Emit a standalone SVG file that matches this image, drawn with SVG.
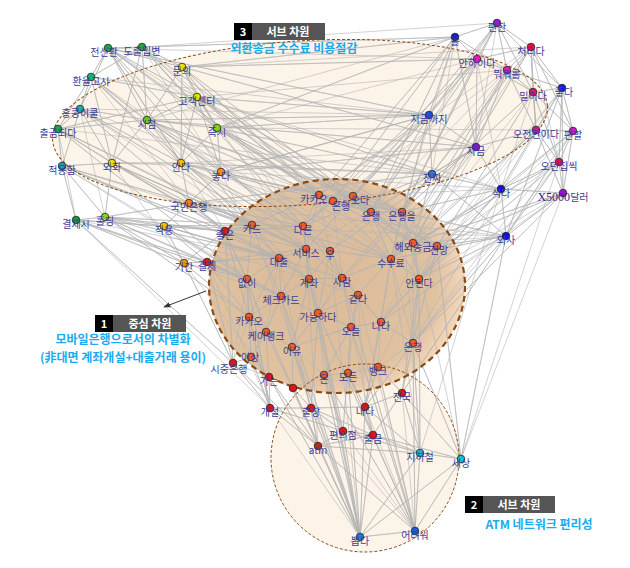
<svg xmlns="http://www.w3.org/2000/svg" width="630" height="568" viewBox="0 0 630 568">
<defs>
<style>
.lb{font-family:"Noto Sans CJK KR","Noto Sans",sans-serif;font-size:10px;fill:#3c3c96;text-anchor:middle}
.n{stroke:#222;stroke-width:.8}
.e{fill:none;stroke:#b4b4b4;stroke-width:.6}
.bx{font-family:"Noto Sans CJK KR","Noto Sans",sans-serif;font-size:11px;font-weight:bold;fill:#fff;text-anchor:middle}
.st{font-family:"Noto Sans CJK KR","Noto Sans",sans-serif;font-size:12px;font-weight:bold;fill:#1aabef;text-anchor:middle}
.o{fill:#f05a28}.r{fill:#e01414}
</style>
<radialGradient id="cg" cx="0.42" cy="0.48" r="0.62">
<stop offset="0" stop-color="#dbba98"/>
<stop offset="0.75" stop-color="#e0c2a1"/>
<stop offset="1" stop-color="#f9dfc4"/>
</radialGradient>
<marker id="arr" viewBox="0 0 10 10" refX="9" refY="5" markerWidth="7" markerHeight="7" orient="auto"><path d="M0,1L10,5L0,9z" fill="#333"/></marker>
</defs>
<rect width="630" height="568" fill="#fff"/>
<g id="regions-fill">
<ellipse cx="300" cy="123" rx="248" ry="82" transform="rotate(-4 300 123)" fill="#fdf4e9"/>
<circle cx="365" cy="458" r="94" fill="#fdf4e9"/>
<ellipse cx="337" cy="286" rx="128" ry="107" fill="url(#cg)"/>
</g>
<g id="connectors">
<path class="e" d="M108 48L142 47 108 48 91 77 108 48 80 109 108 48 147 120 108 48 182 67 108 48 197 97 108 48 217 128 108 48 252 225 108 48 319 195 108 48 306 249 108 48 429 115 108 48 181 163 108 48 225 231
M142 47L91 77 142 47 147 120 142 47 182 67 142 47 197 97 142 47 217 128 142 47 303 226 142 47 371 212 142 47 455 37 142 47 112 163 142 47 221 172
M91 77L80 109 91 77 58 129 91 77 147 120 91 77 197 97 91 77 112 163 91 77 252 225 91 77 279 258 91 77 189 203
M80 109L58 129 80 109 147 120 80 109 62 166 80 109 112 163 80 109 181 163 80 109 225 231 80 109 306 249 80 109 105 217
M58 129L62 166 58 129 112 163 58 129 147 120 58 129 197 97 58 129 252 225 58 129 247 279 58 129 76 220
M147 120L182 67 147 120 197 97 147 120 217 128 147 120 112 163 147 120 181 163 147 120 221 172 147 120 303 226 147 120 319 195 147 120 353 196 147 120 429 115 147 120 476 147 147 120 391 259
M217 128L182 67 217 128 197 97 217 128 181 163 217 128 221 172 217 128 319 195 217 128 333 201 217 128 371 212 217 128 429 115 217 128 432 174 217 128 402 212 217 128 477 59
M182 67L197 97 182 67 181 163 182 67 319 195 182 67 353 196 182 67 455 37 182 67 477 59 182 67 476 147 182 67 391 259
M197 97L181 163 197 97 221 172 197 97 333 201 197 97 402 212 197 97 429 115 197 97 432 174 197 97 413 243 197 97 501 189
M62 166L112 163 62 166 76 220 62 166 105 217 62 166 189 203 62 166 225 231 62 166 279 258 62 166 164 226
M112 163L181 163 112 163 105 217 112 163 189 203 112 163 252 225 112 163 306 249 112 163 309 279 112 163 184 263
M181 163L221 172 181 163 189 203 181 163 303 226 181 163 330 251 181 163 371 212 181 163 432 174 181 163 437 246
M221 172L189 203 221 172 319 195 221 172 402 212 221 172 429 115 221 172 476 147 221 172 391 259 221 172 281 296
M189 203L105 217 189 203 164 226 189 203 225 231 189 203 252 225 189 203 303 226 189 203 306 249 189 203 391 259 189 203 432 174 189 203 506 236
M76 220L105 217 76 220 164 226 76 220 184 263 76 220 207 262 76 220 247 279 76 220 233 363 76 220 270 408
M105 217L164 226 105 217 184 263 105 217 225 231 105 217 252 225 105 217 279 258 105 217 249 317 105 217 281 296 105 217 309 279
M164 226L184 263 164 226 225 231 164 226 207 262 164 226 252 225 164 226 279 258 164 226 247 279 164 226 342 278 164 226 506 236
M184 263L225 231 184 263 207 262 184 263 247 279 184 263 249 317 184 263 233 363 184 263 269 377
M497 23L455 37 497 23 531 47 497 23 477 59 497 23 507 70 497 23 533 92 497 23 562 88 497 23 429 115 497 23 353 196 497 23 402 212 497 23 476 147
M455 37L477 59 455 37 507 70 455 37 429 115 455 37 476 147 455 37 319 195 455 37 333 201 455 37 371 212 455 37 217 128 455 37 432 174
M531 47L477 59 531 47 507 70 531 47 533 92 531 47 562 88 531 47 536 130 531 47 573 131 531 47 402 212 531 47 413 243 531 47 559 162
M477 59L507 70 477 59 533 92 477 59 429 115 477 59 476 147 477 59 371 212 477 59 402 212 477 59 303 226 477 59 501 189
M507 70L533 92 507 70 562 88 507 70 536 130 507 70 476 147 507 70 391 259 507 70 413 243 507 70 432 174
M533 92L562 88 533 92 536 130 533 92 573 131 533 92 559 162 533 92 402 212 533 92 437 246 533 92 501 189
M562 88L536 130 562 88 573 131 562 88 559 162 562 88 563 193 562 88 506 236 562 88 437 246
M429 115L476 147 429 115 432 174 429 115 319 195 429 115 353 196 429 115 371 212 429 115 306 249 429 115 391 259 429 115 221 172
M536 130L573 131 536 130 476 147 536 130 559 162 536 130 501 189 536 130 563 193 536 130 413 243 536 130 419 279
M573 131L559 162 573 131 563 193 573 131 506 236 573 131 501 189 573 131 437 246
M476 147L432 174 476 147 501 189 476 147 371 212 476 147 330 251 476 147 391 259 476 147 381 322
M559 162L501 189 559 162 563 193 559 162 506 236 559 162 413 243 559 162 419 279 559 162 413 343
M432 174L501 189 432 174 506 236 432 174 303 226 432 174 402 212 432 174 342 278 432 174 413 243 432 174 318 313
M501 189L563 193 501 189 506 236 501 189 402 212 501 189 391 259 501 189 419 279 501 189 381 322 501 189 189 203
M563 193L506 236 563 193 437 246 563 193 413 243 563 193 413 343 563 193 419 279
M506 236L402 212 506 236 391 259 506 236 437 246 506 236 419 279 506 236 413 343 506 236 402 393 506 236 461 459 506 236 381 322
M270 408L311 408 270 408 343 431 270 408 318 446 270 408 233 363 270 408 269 377 270 408 251 357 270 408 249 317 270 408 247 279 270 408 360 537
M311 408L365 407 311 408 343 431 311 408 373 435 311 408 318 446 311 408 293 388 311 408 292 347 311 408 318 313 311 408 360 537 311 408 415 531
M365 407L402 393 365 407 373 435 365 407 420 453 365 407 348 373 365 407 378 367 365 407 381 322 365 407 413 343 365 407 360 537 365 407 415 531
M402 393L373 435 402 393 420 453 402 393 461 459 402 393 413 343 402 393 419 279 402 393 378 367 402 393 415 531
M343 431L373 435 343 431 318 446 343 431 420 453 343 431 324 375 343 431 351 327 343 431 360 537 343 431 415 531
M373 435L318 446 373 435 420 453 373 435 461 459 373 435 348 373 373 435 360 537 373 435 415 531
M318 446L420 453 318 446 360 537 318 446 415 531 318 446 269 377 318 446 233 363 318 446 293 388
M420 453L461 459 420 453 360 537 420 453 415 531 420 453 413 343 420 453 419 279
M461 459L360 537 461 459 415 531 461 459 413 343 461 459 437 246
M360 537L415 531 360 537 269 377 360 537 293 388 360 537 348 373 360 537 324 375 360 537 292 347 360 537 281 296 360 537 309 279 360 537 318 313
M415 531L324 375 415 531 378 367 415 531 413 343 415 531 351 327 415 531 318 313 415 531 342 278 415 531 358 295
M225 231L252 225 225 231 303 226 225 231 306 249 225 231 279 258 225 231 247 279 225 231 249 317 225 231 233 363 225 231 207 262
M207 262L247 279 207 262 249 317 207 262 233 363 207 262 279 258 207 262 306 249 207 262 281 296
M252 225L303 226 252 225 319 195 252 225 306 249 252 225 279 258 252 225 247 279 252 225 309 279 252 225 281 296
M303 226L319 195 303 226 333 201 303 226 306 249 303 226 330 251 303 226 309 279 303 226 342 278 303 226 391 259
M319 195L333 201 319 195 353 196 319 195 371 212 319 195 402 212 319 195 306 249 319 195 330 251
M333 201L353 196 333 201 371 212 333 201 402 212 333 201 391 259 333 201 413 243 333 201 342 278
M353 196L371 212 353 196 402 212 353 196 413 243 353 196 437 246 353 196 391 259
M371 212L402 212 371 212 391 259 371 212 413 243 371 212 437 246 371 212 419 279 371 212 330 251
M402 212L413 243 402 212 437 246 402 212 419 279 402 212 391 259 402 212 413 343
M306 249L330 251 306 249 279 258 306 249 309 279 306 249 342 278 306 249 281 296 306 249 318 313
M330 251L309 279 330 251 342 278 330 251 391 259 330 251 318 313 330 251 358 295
M279 258L247 279 279 258 309 279 279 258 281 296 279 258 249 317 279 258 266 332
M247 279L281 296 247 279 249 317 247 279 266 332 247 279 251 357 247 279 233 363
M309 279L342 278 309 279 281 296 309 279 318 313 309 279 292 347 309 279 358 295
M342 278L391 259 342 278 318 313 342 278 358 295 342 278 381 322 342 278 351 327
M391 259L413 243 391 259 419 279 391 259 381 322 391 259 358 295 391 259 413 343
M413 243L437 246 413 243 419 279 413 243 413 343
M437 246L419 279 437 246 413 343 437 246 381 322
M419 279L381 322 419 279 413 343 419 279 378 367
M281 296L318 313 281 296 249 317 281 296 266 332 281 296 292 347
M318 313L292 347 318 313 358 295 318 313 351 327 318 313 324 375
M249 317L266 332 249 317 251 357 249 317 233 363
M266 332L292 347 266 332 251 357 266 332 269 377 266 332 293 388
M292 347L351 327 292 347 293 388 292 347 324 375
M251 357L233 363 251 357 269 377
M233 363L269 377
M358 295L381 322 358 295 351 327 358 295 348 373
M381 322L413 343 381 322 351 327 381 322 378 367
M351 327L324 375 351 327 348 373
M413 343L378 367M269 377L293 388M293 388L324 375M324 375L348 373M348 373L378 367
M108 48L477 59M142 47L497 23M91 77L429 115M147 120L455 37M182 67L531 47M197 97L507 70M217 128L536 130M181 163L476 147M221 172L501 189M112 163L432 174M80 109L429 115M58 129L432 174
M108 48L371 212M91 77L303 226M80 109L319 195M58 129L306 249M147 120L402 212M182 67L303 226M197 97L371 212M62 166L252 225M112 163L279 258M181 163L306 249M221 172L303 226M76 220L225 231M76 220L279 258M105 217L247 279M164 226L281 296M184 263L281 296M62 166L247 279M80 109L252 225M58 129L225 231M142 47L319 195M91 77L306 249M147 120L279 258M217 128L391 259M182 67L330 251M197 97L306 249
M497 23L371 212M455 37L402 212M531 47L391 259M477 59L306 249M507 70L371 212M533 92L413 243M562 88L419 279M429 115L303 226M536 130L391 259M573 131L419 279M476 147L342 278M559 162L437 246M432 174L306 249M501 189L413 243M563 193L381 322M506 236L413 243M531 47L319 195M507 70L303 226M562 88L413 343M573 131L413 343
M281 296L311 408M249 317L270 408M309 279L343 431M306 249L318 446M279 258L318 446M342 278L373 435M391 259L365 407M247 279L270 408M303 226L360 537M330 251L360 537M252 225L360 537M225 231L318 446M207 262L270 408M419 279L420 453M413 243L461 459M437 246L461 459M391 259L420 453M358 295L365 407M318 313L343 431M266 332L318 446M501 189L420 453M563 193L461 459M559 162L461 459"/>
</g>
<g id="regions-outline" fill="none" stroke="#8b4a12">
<ellipse cx="300" cy="123" rx="248" ry="82" transform="rotate(-4 300 123)" stroke-width="1" stroke-dasharray="3 2"/>
<circle cx="365" cy="458" r="94" stroke-width="1" stroke-dasharray="3 2"/>
<ellipse cx="337" cy="286" rx="128" ry="107" stroke-width="2.2" stroke-dasharray="6 4"/>
</g>
<g id="n-a1"><circle class="n" cx="108" cy="48" r="3.8" fill="#1fa84a"/><text class="lb" x="104" y="56">전신환</text></g>
<g id="n-a2"><circle class="n" cx="142" cy="47" r="3.8" fill="#22aa33"/><text class="lb" x="142" y="55">도출입변</text></g>
<g id="n-a3"><circle class="n" cx="91" cy="77" r="3.8" fill="#15b57a"/><text class="lb" x="91" y="85">환율고시</text></g>
<g id="n-a4"><circle class="n" cx="80" cy="109" r="3.8" fill="#19b0a0"/><text class="lb" x="80" y="117">홍콩이쿨</text></g>
<g id="n-a5"><circle class="n" cx="58" cy="129" r="3.8" fill="#18a84a"/><text class="lb" x="58" y="137">출금되다</text></g>
<g id="n-a6"><circle class="n" cx="147" cy="120" r="3.8" fill="#66c81c"/><text class="lb" x="147" y="128">시점</text></g>
<g id="n-a7"><circle class="n" cx="217" cy="128" r="3.8" fill="#7fd21a"/><text class="lb" x="217" y="136">즉시</text></g>
<g id="n-a8"><circle class="n" cx="182" cy="67" r="3.8" fill="#f0e000"/><text class="lb" x="182" y="75">문의</text></g>
<g id="n-a9"><circle class="n" cx="197" cy="97" r="3.8" fill="#e8e000"/><text class="lb" x="197" y="105">고객센터</text></g>
<g id="n-a10"><circle class="n" cx="62" cy="166" r="3.8" fill="#1aa0a8"/><text class="lb" x="62" y="174">적용함</text></g>
<g id="n-a11"><circle class="n" cx="112" cy="163" r="3.8" fill="#e8e010"/><text class="lb" x="112" y="171">외화</text></g>
<g id="n-a12"><circle class="n" cx="181" cy="163" r="3.8" fill="#f2c200"/><text class="lb" x="181" y="171">안다</text></g>
<g id="n-a13"><circle class="n" cx="221" cy="172" r="3.8" fill="#ff8c10"/><text class="lb" x="221" y="180">놓다</text></g>
<g id="n-a14"><circle class="n" cx="189" cy="203" r="3.8" fill="#f08010"/><text class="lb" x="189" y="211">국민은행</text></g>
<g id="n-a15"><circle class="n" cx="76" cy="220" r="3.8" fill="#139c2c"/><text class="lb" x="76" y="228">결제시</text></g>
<g id="n-a16"><circle class="n" cx="105" cy="217" r="3.8" fill="#8ad61e"/><text class="lb" x="105" y="225">홀딩</text></g>
<g id="n-a17"><circle class="n" cx="164" cy="226" r="3.8" fill="#f0c000"/><text class="lb" x="164" y="234">적용</text></g>
<g id="n-a18"><circle class="n" cx="184" cy="263" r="3.8" fill="#f09010"/><text class="lb" x="184" y="271">기간</text></g>
<g id="n-c1"><circle class="n r" cx="225" cy="231" r="3.8"/><text class="lb" x="225" y="239">좋은</text></g>
<g id="n-c2"><circle class="n r" cx="207" cy="262" r="3.8"/><text class="lb" x="207" y="270">결제</text></g>
<g id="n-c3"><circle class="n o" cx="252" cy="225" r="3.8"/><text class="lb" x="252" y="233">카드</text></g>
<g id="n-c4"><circle class="n o" cx="303" cy="226" r="3.8"/><text class="lb" x="303" y="234">다른</text></g>
<g id="n-c5"><circle class="n o" cx="319" cy="195" r="3.8"/><text class="lb" x="314" y="203">카카오</text></g>
<g id="n-c6"><circle class="n o" cx="333" cy="201" r="3.8"/><text class="lb" x="341" y="210">은행</text></g>
<g id="n-c7"><circle class="n o" cx="353" cy="196" r="3.8"/><text class="lb" x="360" y="204">오다</text></g>
<g id="n-c8"><circle class="n o" cx="371" cy="212" r="3.8"/><text class="lb" x="371" y="220">은행</text></g>
<g id="n-c9"><circle class="n o" cx="402" cy="212" r="3.8"/><text class="lb" x="402" y="220">은행을</text></g>
<g id="n-c10"><circle class="n o" cx="306" cy="249" r="3.8"/><text class="lb" x="306" y="257">서비스</text></g>
<g id="n-c11"><circle class="n o" cx="330" cy="251" r="3.8"/><text class="lb" x="330" y="259">우</text></g>
<g id="n-c12"><circle class="n o" cx="279" cy="258" r="3.8"/><text class="lb" x="279" y="266">대출</text></g>
<g id="n-c13"><circle class="n o" cx="247" cy="279" r="3.8"/><text class="lb" x="247" y="287">없이</text></g>
<g id="n-c14"><circle class="n o" cx="309" cy="279" r="3.8"/><text class="lb" x="309" y="287">계좌</text></g>
<g id="n-c15"><circle class="n o" cx="342" cy="278" r="3.8"/><text class="lb" x="342" y="286">사람</text></g>
<g id="n-c16"><circle class="n o" cx="391" cy="259" r="3.8"/><text class="lb" x="391" y="267">수수료</text></g>
<g id="n-c17"><circle class="n o" cx="413" cy="243" r="3.8"/><text class="lb" x="413" y="251">해외송금</text></g>
<g id="n-c18"><circle class="n o" cx="437" cy="246" r="3.8"/><text class="lb" x="439" y="254">전망</text></g>
<g id="n-c19"><circle class="n o" cx="419" cy="279" r="3.8"/><text class="lb" x="419" y="287">안된다</text></g>
<g id="n-c20"><circle class="n o" cx="281" cy="296" r="3.8"/><text class="lb" x="281" y="304">체크카드</text></g>
<g id="n-c21"><circle class="n o" cx="318" cy="313" r="3.8"/><text class="lb" x="318" y="321">가능하다</text></g>
<g id="n-c22"><circle class="n o" cx="249" cy="317" r="3.8"/><text class="lb" x="249" y="325">카카오</text></g>
<g id="n-c23"><circle class="n o" cx="266" cy="332" r="3.8"/><text class="lb" x="266" y="340">케이뱅크</text></g>
<g id="n-c24"><circle class="n o" cx="292" cy="347" r="3.8"/><text class="lb" x="292" y="355">이유</text></g>
<g id="n-c25"><circle class="n o" cx="251" cy="357" r="3.8"/><text class="lb" x="250" y="361" text-anchor="start">이상</text></g>
<g id="n-c26"><circle class="n r" cx="233" cy="363" r="3.8"/><text class="lb" x="229" y="373">시중은행</text></g>
<g id="n-c27"><circle class="n o" cx="358" cy="295" r="3.8"/><text class="lb" x="358" y="303">같다</text></g>
<g id="n-c28"><circle class="n o" cx="381" cy="322" r="3.8"/><text class="lb" x="381" y="330">나다</text></g>
<g id="n-c29"><circle class="n o" cx="351" cy="327" r="3.8"/><text class="lb" x="351" y="335">오늘</text></g>
<g id="n-c30"><circle class="n o" cx="413" cy="343" r="3.8"/><text class="lb" x="413" y="351">은행</text></g>
<g id="n-c31"><circle class="n r" cx="269" cy="377" r="3.8"/><text class="lb" x="269" y="385">가는</text></g>
<g id="n-c32"><circle class="n r" cx="293" cy="388" r="3.8"/></g>
<g id="n-c33"><circle class="n o" cx="324" cy="375" r="3.8"/><text class="lb" x="324" y="383">온</text></g>
<g id="n-c34"><circle class="n o" cx="348" cy="373" r="3.8"/><text class="lb" x="348" y="381">모든</text></g>
<g id="n-c35"><circle class="n o" cx="378" cy="367" r="3.8"/><text class="lb" x="378" y="375">뱅크</text></g>
<g id="n-b1"><circle class="n r" cx="270" cy="408" r="3.8"/><text class="lb" x="270" y="416">개설</text></g>
<g id="n-b2"><circle class="n r" cx="311" cy="408" r="3.8"/><text class="lb" x="311" y="416">출장</text></g>
<g id="n-b3"><circle class="n r" cx="365" cy="407" r="3.8"/><text class="lb" x="365" y="415">내다</text></g>
<g id="n-b4"><circle class="n r" cx="402" cy="393" r="3.8"/><text class="lb" x="402" y="401">전국</text></g>
<g id="n-b5"><circle class="n r" cx="343" cy="431" r="3.8"/><text class="lb" x="343" y="439">편의점</text></g>
<g id="n-b6"><circle class="n r" cx="373" cy="435" r="3.8"/><text class="lb" x="373" y="443">출금</text></g>
<g id="n-b7"><circle class="n" cx="318" cy="446" r="3.8" fill="#c02a1a"/><text class="lb" x="318" y="454">atm</text></g>
<g id="n-b8"><circle class="n" cx="420" cy="453" r="3.8" fill="#10b8e0"/><text class="lb" x="420" y="461">지하철</text></g>
<g id="n-b9"><circle class="n" cx="461" cy="459" r="3.8" fill="#10c0d8"/><text class="lb" x="461" y="467">세상</text></g>
<g id="n-b10"><circle class="n" cx="360" cy="537" r="3.8" fill="#1080e8"/><text class="lb" x="360" y="545">뽑다</text></g>
<g id="n-b11"><circle class="n" cx="415" cy="531" r="3.8" fill="#1060d8"/><text class="lb" x="415" y="539">어려워</text></g>
<g id="n-t1"><circle class="n" cx="497" cy="23" r="3.8" fill="#9a1ad0"/><text class="lb" x="497" y="31">편한</text></g>
<g id="n-t2"><circle class="n" cx="455" cy="37" r="3.8" fill="#1818d8"/><text class="lb" x="455" y="45">를</text></g>
<g id="n-t3"><circle class="n" cx="531" cy="47" r="3.8" fill="#e0103c"/><text class="lb" x="531" y="55">처리다</text></g>
<g id="n-t4"><circle class="n" cx="477" cy="59" r="3.8" fill="#ea18c8"/><text class="lb" x="477" y="67">안하이다</text></g>
<g id="n-t5"><circle class="n" cx="507" cy="70" r="3.8" fill="#e818b0"/><text class="lb" x="507" y="78">뭐뭐롤</text></g>
<g id="n-t6"><circle class="n" cx="533" cy="92" r="3.8" fill="#e01060"/><text class="lb" x="533" y="100">밀어다</text></g>
<g id="n-t7"><circle class="n" cx="562" cy="88" r="3.8" fill="#1a1ad8"/><text class="lb" x="564" y="96">좋다</text></g>
<g id="n-t8"><circle class="n" cx="429" cy="115" r="3.8" fill="#1a50e0"/><text class="lb" x="429" y="123">지금까지</text></g>
<g id="n-t9"><circle class="n" cx="536" cy="130" r="3.8" fill="#e0108a"/><text class="lb" x="536" y="138">오전한이다</text></g>
<g id="n-t10"><circle class="n" cx="573" cy="131" r="3.8" fill="#d018d0"/><text class="lb" x="573" y="139">편할</text></g>
<g id="n-t11"><circle class="n" cx="476" cy="147" r="3.8" fill="#8a10d8"/><text class="lb" x="476" y="155">자금</text></g>
<g id="n-t12"><circle class="n" cx="559" cy="162" r="3.8" fill="#e01050"/><text class="lb" x="559" y="170">오던집씩</text></g>
<g id="n-t13"><circle class="n" cx="432" cy="174" r="3.8" fill="#2a78e0"/><text class="lb" x="432" y="182">진짜</text></g>
<g id="n-t14"><circle class="n" cx="501" cy="189" r="3.8" fill="#1010e0"/><text class="lb" x="501" y="197">석다</text></g>
<g id="n-t15"><circle class="n" cx="563" cy="193" r="3.8" fill="#a010d8"/><text class="lb" x="563" y="201"><tspan font-family="Liberation Serif,serif" font-size="12" fill="#2a2a80">X5000</tspan>달러</text></g>
<g id="n-t16"><circle class="n" cx="506" cy="236" r="3.8" fill="#1010e0"/><text class="lb" x="506" y="244">외사</text></g>
<g id="callout-1">
<line x1="206" y1="291" x2="164" y2="307" stroke="#333" stroke-width="1" marker-end="url(#arr)"/>
<rect x="95" y="315" width="18" height="17" fill="#000"/>
<rect x="113" y="315" width="73" height="17" fill="#555"/>
<text class="bx" x="104" y="328">1</text>
<text class="bx" x="150" y="328">중심 차원</text>
<text class="st" x="123" y="344" font-size="11.5">모바일은행으로서의 차별화</text>
<text class="st" x="123" y="362" font-size="9">(非대면 계좌개설+대출거래 용이)</text>
</g>
<g id="callout-2">
<rect x="465" y="496" width="18" height="17" fill="#000"/>
<rect x="483" y="496" width="72" height="17" fill="#555"/>
<text class="bx" x="474" y="509">2</text>
<text class="bx" x="519" y="509">서브 차원</text>
<text class="st" x="539" y="529">ATM 네트워크 편리성</text>
</g>
<g id="callout-3">
<rect x="234" y="23" width="18" height="17" fill="#000"/>
<rect x="252" y="23" width="73" height="17" fill="#555"/>
<text class="bx" x="243" y="36">3</text>
<text class="bx" x="288" y="36">서브 차원</text>
<text class="st" x="294" y="53">외환송금 수수료 비용절감</text>
</g>
</svg>
